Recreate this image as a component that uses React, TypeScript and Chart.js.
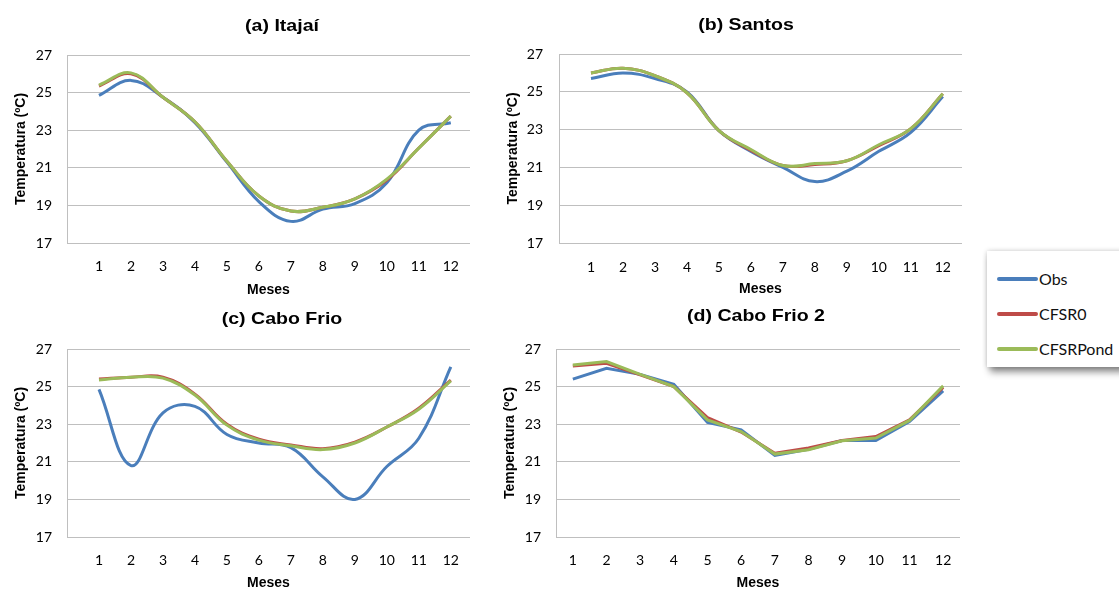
import React, { useEffect, useRef } from "react";
import { Chart, registerables } from "chart.js";

Chart.register(...registerables);

const months = [1, 2, 3, 4, 5, 6, 7, 8, 9, 10, 11, 12];
const monthLabels = ["1", "2", "3", "4", "5", "6", "7", "8", "9", "10", "11", "12"];
const yTicks = [17, 19, 21, 23, 25, 27];
const seriesNames = ["Obs", "CFSR0", "CFSRPond"];

const itajaiObs = [24.85, 25.65, 24.75, 23.4, 21.3, 19.2, 18.15, 18.8, 19.1, 20.2, 23.0, 23.4];
const itajaiCfsr0 = [25.35, 26.0, 24.75, 23.45, 21.35, 19.5, 18.7, 18.9, 19.35, 20.35, 22.05, 23.75];
const itajaiPond = [25.4, 26.05, 24.75, 23.45, 21.35, 19.5, 18.7, 18.9, 19.35, 20.4, 22.05, 23.75];

const santosObs = [25.7, 26.0, 25.7, 25.0, 22.95, 21.85, 21.0, 20.25, 20.8, 21.85, 22.85, 24.75];
const santosCfsr0 = [26.0, 26.25, 25.85, 24.95, 22.95, 21.9, 21.1, 21.15, 21.35, 22.15, 23.05, 24.9];
const santosPond = [26.0, 26.25, 25.85, 24.95, 22.95, 21.95, 21.1, 21.2, 21.35, 22.2, 23.05, 24.9];

const caboObs = [24.85, 20.8, 23.6, 23.95, 22.45, 22.0, 21.75, 20.2, 19.0, 20.75, 22.25, 26.05];
const caboCfsr0 = [25.4, 25.5, 25.5, 24.6, 23.0, 22.2, 21.9, 21.7, 22.05, 22.85, 23.85, 25.35];
const caboPond = [25.35, 25.5, 25.45, 24.55, 22.95, 22.15, 21.85, 21.65, 22.0, 22.85, 23.8, 25.3];

const cabo2Obs = [25.4, 25.97, 25.65, 25.12, 23.09, 22.7, 21.34, 21.67, 22.13, 22.13, 23.14, 24.77];
const cabo2Cfsr0 = [26.1, 26.24, 25.62, 25.0, 23.35, 22.58, 21.46, 21.73, 22.13, 22.34, 23.23, 24.95];
const cabo2Pond = [26.15, 26.33, 25.65, 25.0, 23.23, 22.61, 21.41, 21.64, 22.12, 22.26, 23.2, 25.04];

const COLORS = ["#4A7EBB", "#BE4B48", "#9BBB59"];
const DRAW_ORDER = [2, 1, 0];
const GRID = "#BFBFBF";

type Panel = {
  title: string;
  series: number[][];
  left: number; top: number; w: number; h: number;
  area: { l: number; r: number; t: number; b: number };
  titlePos: { x: number; y: number };
  yTitleC: number;
  tickPad: number;
  xTitleC: number;
  linear: boolean;
  tension: number;
};

const panels: Panel[] = [
  {
    title: "(a) Itajaí", series: [itajaiObs, itajaiCfsr0, itajaiPond],
    left: 0, top: 0, w: 480, h: 300, area: { l: 67, r: 470, t: 55, b: 243 },
    titlePos: { x: 282, y: 26.5 }, yTitleC: 21, tickPad: 15, xTitleC: 290, linear: true, tension: 0.4,
  },
  {
    title: "(b) Santos", series: [santosObs, santosCfsr0, santosPond],
    left: 480, top: 0, w: 490, h: 300, area: { l: 79, r: 482, t: 54, b: 243 },
    titlePos: { x: 266, y: 25 }, yTitleC: 33, tickPad: 16, xTitleC: 289, linear: true, tension: 0.4,
  },
  {
    title: "(c) Cabo Frio", series: [caboObs, caboCfsr0, caboPond],
    left: 0, top: 295, w: 480, h: 300, area: { l: 67, r: 470, t: 54, b: 242 },
    titlePos: { x: 282, y: 24 }, yTitleC: 21, tickPad: 15, xTitleC: 288, linear: true, tension: 0.4,
  },
  {
    title: "(d) Cabo Frio 2", series: [cabo2Obs, cabo2Cfsr0, cabo2Pond],
    left: 480, top: 295, w: 490, h: 300, area: { l: 76, r: 480, t: 54, b: 242 },
    titlePos: { x: 276, y: 21 }, yTitleC: 30, tickPad: 15, xTitleC: 288, linear: false, tension: 0,
  },
];

const panelTitlePlugin = {
  id: "panelTitle",
  afterDraw(chart: any, _args: any, opts: any) {
    const ctx = chart.ctx;
    ctx.save();
    ctx.font = 'bold 17px "Liberation Sans", Arial, sans-serif';
    ctx.fillStyle = "#000";
    ctx.textAlign = "center";
    ctx.textBaseline = "middle";
    ctx.translate(opts.x, opts.y);
    ctx.scale(1.15, 1);
    ctx.fillText(opts.text, 0, 0);
    ctx.restore();
  },
};

const tickFont = { family: "Lato", size: 14 };
const axisTitleFont = { family: '"Liberation Sans", Arial', size: 14, weight: "bold" as const };

function PanelChart({ p }: { p: Panel }) {
  const ref = useRef<HTMLCanvasElement | null>(null);
  useEffect(() => {
    if (!ref.current) return;
    const datasets = p.series.map((vals, i) => ({
      label: seriesNames[i],
      data: p.linear ? months.map((m, j) => ({ x: m, y: vals[j] })) : vals,
      borderColor: COLORS[i],
      backgroundColor: COLORS[i],
      borderWidth: 3,
      pointRadius: 0,
      tension: p.tension,
      fill: false,
      order: DRAW_ORDER[i],
    }));
    const xTitle = {
      display: true, text: "Meses", font: axisTitleFont, color: "#000",
      padding: { top: 0, bottom: p.h - p.xTitleC - 8.4 },
    };
    const xScale: any = p.linear
      ? {
          type: "linear",
          min: 0,
          max: 12.6,
          afterFit: (s: any) => { s.height = p.h - p.area.b; },
          afterBuildTicks: (s: any) => { s.ticks = months.map((v) => ({ value: v })); },
          grid: { display: false, drawTicks: false },
          border: { display: false },
          ticks: {
            autoSkip: false,
            maxRotation: 0,
            padding: p.tickPad,
            font: tickFont,
            color: "#000",
            callback: (v: number) => {
              const idx = months.indexOf(v);
              return idx >= 0 ? monthLabels[idx] : "";
            },
          },
          title: xTitle,
        }
      : {
          type: "category",
          offset: true,
          afterFit: (s: any) => { s.height = p.h - p.area.b; },
          grid: { display: false, drawTicks: false },
          border: { display: false },
          ticks: { autoSkip: false, maxRotation: 0, padding: p.tickPad, font: tickFont, color: "#000" },
          title: xTitle,
        };
    const chart = new Chart(ref.current, {
      type: "line",
      data: { labels: p.linear ? undefined : monthLabels, datasets } as any,
      options: {
        animation: false,
        responsive: false,
        maintainAspectRatio: false,
        devicePixelRatio: 1,
        layout: { padding: { left: 0, top: p.area.t, right: p.w - p.area.r, bottom: 0 } },
        plugins: {
          legend: { display: false },
          tooltip: { enabled: false },
          title: { display: false },
          panelTitle: { text: p.title, x: p.titlePos.x, y: p.titlePos.y },
        } as any,
        scales: {
          x: xScale,
          y: {
            type: "linear",
            min: 17,
            max: 27,
            afterFit: (s: any) => { s.width = p.area.l; },
            afterBuildTicks: (s: any) => { s.ticks = yTicks.map((v) => ({ value: v })); },
            grid: { color: GRID, lineWidth: 1, drawTicks: false },
            border: { display: true, color: GRID, width: 1 },
            ticks: { padding: p.tickPad, font: tickFont, color: "#000" },
            title: {
              display: true, text: "Temperatura (ºC)", font: axisTitleFont, color: "#000",
              padding: { top: p.yTitleC - 8.4, bottom: 0 },
            },
          },
        } as any,
      },
      plugins: [panelTitlePlugin as any],
    });
    return () => chart.destroy();
  }, [p]);
  return (
    <canvas
      ref={ref}
      width={p.w}
      height={p.h}
      style={{ position: "absolute", left: p.left, top: p.top, width: p.w, height: p.h }}
    />
  );
}

function Legend() {
  const rowTops = [279, 314, 349];
  return (
    <div
      style={{
        position: "absolute",
        left: 987,
        top: 251,
        width: 150,
        height: 116,
        background: "#fff",
        boxShadow: "0 0 5px rgba(0,0,0,0.18), 3px 5px 7px rgba(0,0,0,0.45)",
      }}
    >
      {seriesNames.map((name, i) => (
        <div key={name} style={{ position: "absolute", left: 0, top: rowTops[i] - 251 - 10, height: 20, width: 150 }}>
          <div
            style={{
              position: "absolute",
              left: 10,
              top: 8,
              width: 41,
              height: 4,
              borderRadius: 2,
              background: COLORS[i],
            }}
          />
          <div
            style={{
              position: "absolute",
              left: 52,
              top: 0,
              lineHeight: "20px",
              fontFamily: "Lato, sans-serif",
              fontSize: 16,
              color: "#111",
              whiteSpace: "nowrap",
            }}
          >
            {name}
          </div>
        </div>
      ))}
    </div>
  );
}

export default function App() {
  return (
    <div
      style={{
        position: "fixed",
        left: 0,
        top: 0,
        width: 1119,
        height: 591,
        overflow: "hidden",
        background: "#fff",
      }}
    >
      {panels.map((p) => (
        <PanelChart key={p.title} p={p} />
      ))}
      <Legend />
    </div>
  );
}
